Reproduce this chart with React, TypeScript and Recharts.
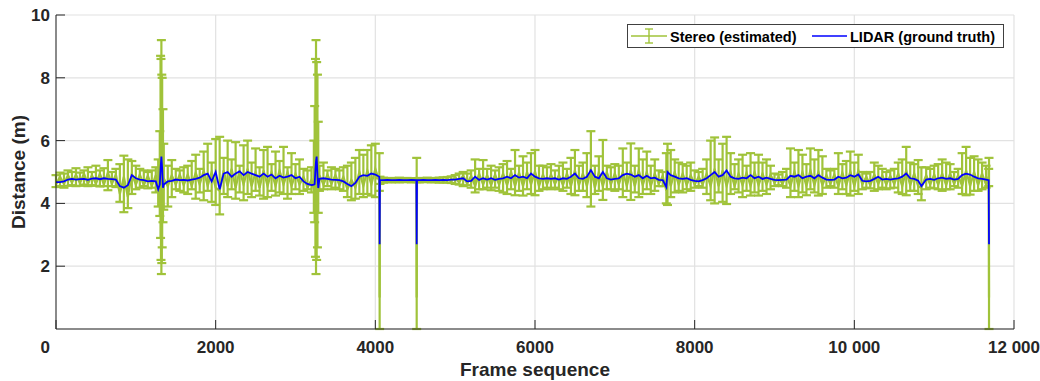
import { ComposedChart, Line, ErrorBar, XAxis, YAxis, CartesianGrid } from 'recharts';

// frame index of each sample
const frameIdx = [
  0, 50, 100, 150, 200, 250, 300, 350, 400, 450,
  500, 550, 600, 650, 700, 750, 800, 850, 900, 950,
  1000, 1050, 1100, 1150, 1200, 1250, 1280, 1300, 1310, 1315,
  1320, 1325, 1330, 1340, 1350, 1400, 1450, 1500, 1550, 1600,
  1650, 1700, 1750, 1800, 1850, 1900, 1950, 2000, 2050, 2100,
  2150, 2200, 2250, 2300, 2350, 2400, 2450, 2500, 2550, 2600,
  2650, 2700, 2750, 2800, 2850, 2900, 2950, 3000, 3050, 3100,
  3150, 3200, 3230, 3240, 3250, 3257, 3265, 3275, 3285, 3300,
  3350, 3400, 3450, 3500, 3550, 3600, 3650, 3700, 3750, 3800,
  3850, 3900, 3950, 4000, 4050, 4054, 4058, 4100, 4150, 4200,
  4250, 4300, 4350, 4400, 4450, 4514, 4518, 4522, 4550, 4600,
  4650, 4700, 4750, 4800, 4850, 4900, 4950, 5000, 5050, 5100,
  5150, 5200, 5250, 5300, 5350, 5400, 5450, 5500, 5550, 5600,
  5650, 5700, 5750, 5800, 5850, 5900, 5950, 6000, 6050, 6100,
  6150, 6200, 6250, 6300, 6350, 6400, 6450, 6500, 6550, 6600,
  6650, 6700, 6750, 6800, 6850, 6900, 6950, 7000, 7050, 7100,
  7150, 7200, 7250, 7300, 7350, 7400, 7450, 7500, 7550, 7600,
  7645, 7660, 7700, 7750, 7800, 7850, 7900, 7950, 8000, 8050,
  8100, 8150, 8200, 8250, 8300, 8350, 8400, 8450, 8500, 8550,
  8600, 8650, 8700, 8750, 8800, 8850, 8900, 8950, 9000, 9050,
  9100, 9150, 9200, 9250, 9300, 9350, 9400, 9450, 9500, 9550,
  9600, 9650, 9700, 9750, 9800, 9850, 9900, 9950, 10000, 10050,
  10100, 10150, 10200, 10250, 10300, 10350, 10400, 10450, 10500, 10550,
  10600, 10650, 10700, 10750, 10800, 10840, 10900, 10950, 11000, 11050,
  11100, 11150, 11200, 11250, 11300, 11350, 11400, 11450, 11500, 11550,
  11600, 11650, 11683, 11687,
];

// LIDAR ground truth distance (m)
const lidarDist = [
  4.68, 4.68, 4.70, 4.76, 4.78, 4.76, 4.77, 4.78, 4.75, 4.79,
  4.80, 4.77, 4.80, 4.78, 4.77, 4.76, 4.55, 4.50, 4.58, 4.90,
  4.80, 4.76, 4.74, 4.70, 4.72, 4.70, 4.45, 4.60, 5.10, 5.30,
  5.49, 5.30, 5.10, 4.50, 4.60, 4.70, 4.72, 4.76, 4.74, 4.75,
  4.73, 4.76, 4.78, 4.82, 4.90, 4.95, 4.70, 5.00, 4.45, 4.95,
  5.00, 4.85, 4.95, 5.02, 4.90, 5.00, 4.95, 4.90, 4.85, 4.95,
  4.85, 4.92, 4.80, 4.88, 4.82, 4.85, 4.90, 4.80, 4.85, 4.70,
  4.62, 4.58, 4.60, 4.62, 5.10, 5.35, 5.49, 4.90, 4.49, 4.78,
  4.80, 4.78, 4.76, 4.75, 4.74, 4.70, 4.62, 4.55, 4.65, 4.85,
  4.90, 4.88, 4.95, 4.92, 4.85, 2.70, 4.74, 4.74, 4.75, 4.74,
  4.74, 4.75, 4.74, 4.74, 4.75, 4.74, 2.70, 4.74, 4.74, 4.75,
  4.74, 4.74, 4.75, 4.74, 4.75, 4.74, 4.76, 4.76, 4.78, 4.80,
  4.70, 4.72, 4.85, 4.75, 4.80, 4.76, 4.80, 4.75, 4.78, 4.80,
  4.85, 4.80, 4.90, 4.82, 4.85, 4.80, 4.95, 4.85, 4.80, 4.78,
  4.80, 4.78, 4.80, 4.76, 4.80, 4.78, 4.85, 4.95, 4.80, 4.78,
  4.85, 5.06, 4.85, 4.80, 5.00, 4.80, 4.76, 4.78, 4.80, 4.90,
  4.95, 4.92, 4.85, 4.90, 4.80, 4.88, 4.80, 4.82, 4.75, 4.74,
  4.52, 5.00, 4.90, 4.85, 4.80, 4.78, 4.80, 4.75, 4.72, 4.70,
  4.74, 4.80, 4.90, 5.00, 4.85, 4.90, 5.05, 4.85, 4.80, 4.78,
  4.82, 4.80, 4.90, 4.80, 4.85, 4.78, 4.82, 4.78, 4.75, 4.74,
  4.75, 4.76, 4.88, 4.85, 4.90, 4.80, 4.85, 4.88, 4.80, 4.90,
  4.82, 4.76, 4.75, 4.76, 4.85, 4.80, 4.82, 4.90, 4.85, 4.92,
  4.72, 4.70, 4.72, 4.78, 4.85, 4.76, 4.78, 4.76, 4.78, 4.80,
  4.85, 4.95, 4.80, 4.78, 4.72, 4.55, 4.76, 4.78, 4.75, 4.80,
  4.82, 4.78, 4.80, 4.76, 4.78, 4.90, 4.95, 4.92, 4.85, 4.80,
  4.78, 4.76, 4.74, 2.70,
];

// stereo estimate (m), the centre line of the error bars
const stereoEst = [
  4.60, 4.85, 4.62, 4.90, 4.66, 4.92, 4.64, 4.95, 4.62, 4.90,
  4.62, 4.95, 4.60, 4.98, 4.62, 4.92, 4.30, 4.85, 4.20, 4.95,
  4.60, 4.92, 4.58, 4.88, 4.55, 4.90, 4.40, 4.95, 5.20, 5.40,
  5.50, 5.20, 4.90, 4.40, 4.80, 4.55, 4.90, 4.60, 4.92, 4.58,
  4.92, 4.55, 4.98, 4.60, 5.05, 4.55, 5.00, 4.50, 4.40, 5.05,
  4.55, 5.10, 4.50, 5.05, 4.60, 5.10, 4.55, 5.00, 4.50, 5.05,
  4.55, 5.00, 4.55, 5.05, 4.60, 5.00, 4.55, 4.95, 4.60, 4.85,
  4.50, 4.75, 4.45, 4.80, 5.00, 5.40, 5.45, 4.80, 4.45, 4.90,
  4.60, 4.92, 4.62, 4.90, 4.58, 4.85, 4.45, 4.75, 4.50, 5.00,
  4.55, 5.05, 4.60, 5.10, 4.70, 1.00, 4.74, 4.72, 4.77, 4.72,
  4.76, 4.72, 4.77, 4.72, 4.76, 4.73, 1.00, 4.75, 4.72, 4.77,
  4.72, 4.77, 4.72, 4.78, 4.71, 4.80, 4.70, 4.84, 4.66, 4.90,
  4.62, 4.88, 4.55, 4.95, 4.60, 4.90, 4.58, 4.92, 4.60, 4.95,
  4.58, 5.00, 4.55, 4.98, 4.55, 5.00, 4.60, 5.02, 4.55, 4.92,
  4.60, 4.92, 4.62, 4.90, 4.58, 4.95, 4.55, 5.05, 4.58, 4.95,
  4.55, 5.10, 4.50, 5.00, 4.55, 5.00, 4.60, 4.95, 4.60, 5.00,
  4.55, 5.05, 4.55, 5.05, 4.58, 5.00, 4.55, 4.95, 4.62, 4.88,
  4.40, 5.05, 4.55, 5.00, 4.60, 4.95, 4.58, 4.90, 4.60, 4.85,
  4.60, 4.95, 4.55, 5.10, 4.55, 5.05, 4.55, 5.00, 4.55, 4.95,
  4.58, 4.98, 4.55, 5.00, 4.58, 4.95, 4.60, 4.92, 4.65, 4.85,
  4.62, 4.90, 4.55, 5.02, 4.55, 5.00, 4.55, 5.05, 4.58, 5.00,
  4.58, 4.90, 4.62, 4.92, 4.55, 4.98, 4.58, 5.02, 4.55, 5.05,
  4.60, 4.85, 4.58, 4.92, 4.62, 4.90, 4.60, 4.88, 4.62, 4.95,
  4.55, 5.05, 4.58, 4.95, 4.55, 4.50, 4.90, 4.60, 4.92, 4.60,
  4.95, 4.58, 4.95, 4.62, 4.90, 4.55, 5.05, 4.55, 5.00, 4.58,
  4.95, 4.60, 4.85, 1.00,
];

// lower end of the stereo error bar (m)
const stereoLow = [
  4.52, 4.55, 4.50, 4.56, 4.58, 4.55, 4.56, 4.60, 4.55, 4.58,
  4.56, 4.54, 4.55, 4.42, 4.55, 4.52, 4.05, 3.72, 3.85, 4.30,
  4.45, 4.50, 4.55, 4.48, 4.50, 4.35, 3.90, 3.60, 2.90, 2.20,
  1.75, 2.10, 2.60, 3.40, 3.80, 3.90, 4.20, 4.45, 4.40, 4.35,
  4.30, 4.45, 4.15, 4.35, 4.10, 4.40, 4.05, 3.95, 3.65, 4.30,
  4.20, 4.45, 4.15, 4.35, 4.10, 4.30, 4.20, 4.40, 4.25, 4.15,
  4.20, 4.40, 4.25, 4.35, 4.30, 4.15, 4.30, 4.45, 4.30, 4.40,
  4.45, 4.35, 3.70, 3.40, 2.30, 1.75, 2.20, 2.60, 3.70, 4.40,
  4.45, 4.55, 4.45, 4.50, 4.45, 4.40, 4.20, 4.10, 4.15, 4.30,
  4.20, 4.30, 4.25, 4.20, 4.40, 0.00, 4.62, 4.66, 4.68, 4.67,
  4.68, 4.67, 4.68, 4.68, 4.67, 4.68, 0.00, 4.68, 4.67, 4.68,
  4.68, 4.67, 4.68, 4.66, 4.67, 4.66, 4.65, 4.62, 4.60, 4.55,
  4.58, 4.50, 4.35, 4.45, 4.45, 4.50, 4.42, 4.50, 4.40, 4.35,
  4.30, 4.45, 4.26, 4.40, 4.25, 4.45, 4.30, 4.26, 4.40, 4.45,
  4.50, 4.45, 4.50, 4.45, 4.40, 4.50, 4.30, 4.26, 4.40, 4.40,
  4.20, 3.90, 4.30, 4.40, 4.11, 4.45, 4.45, 4.40, 4.45, 4.20,
  4.40, 4.11, 4.35, 4.20, 4.30, 4.45, 4.30, 4.40, 4.55, 4.55,
  4.00, 3.95, 4.20, 4.35, 4.40, 4.35, 4.45, 4.40, 4.50, 4.55,
  4.50, 4.30, 4.10, 4.00, 4.35, 4.05, 3.98, 4.30, 4.45, 4.35,
  4.20, 4.40, 4.25, 4.35, 4.25, 4.40, 4.30, 4.45, 4.55, 4.58,
  4.55, 4.50, 4.20, 4.40, 4.20, 4.35, 4.26, 4.45, 4.35, 4.25,
  4.30, 4.50, 4.55, 4.50, 4.30, 4.45, 4.30, 4.25, 4.40, 4.30,
  4.45, 4.50, 4.48, 4.40, 4.45, 4.50, 4.45, 4.48, 4.50, 4.35,
  4.30, 4.26, 4.40, 4.40, 4.30, 4.10, 4.45, 4.50, 4.48, 4.45,
  4.40, 4.45, 4.45, 4.55, 4.50, 4.30, 4.26, 4.28, 4.40, 4.40,
  4.45, 4.50, 4.55, 0.00,
];

// upper end of the stereo error bar (m)
const stereoHigh = [
  4.90, 4.98, 4.95, 5.05, 5.00, 5.12, 4.98, 5.05, 5.15, 5.00,
  5.20, 5.05, 5.12, 5.38, 5.00, 5.10, 5.25, 5.52, 5.40, 5.35,
  5.20, 5.10, 5.05, 5.00, 5.05, 5.15, 5.40, 6.30, 8.70, 8.60,
  9.20, 8.10, 8.00, 7.00, 5.90, 5.20, 5.38, 5.10, 5.05, 5.15,
  5.20, 5.35, 5.55, 5.10, 5.65, 5.90, 5.30, 6.05, 6.12, 5.45,
  6.00, 5.40, 5.95, 5.20, 5.85, 6.00, 5.30, 5.75, 5.15, 5.70,
  5.80, 5.25, 5.65, 5.35, 5.80, 5.15, 5.60, 5.25, 5.40, 5.10,
  5.05, 5.15, 6.00, 7.10, 8.60, 9.20, 8.50, 8.10, 6.60, 5.20,
  5.30, 5.05, 5.15, 5.10, 5.05, 5.15, 5.20, 5.30, 5.45, 5.70,
  5.55, 5.70, 5.85, 5.90, 5.60, 4.80, 4.85, 4.82, 4.80, 4.81,
  4.80, 4.82, 4.80, 4.81, 4.80, 4.80, 5.45, 4.80, 4.81, 4.80,
  4.82, 4.80, 4.81, 4.82, 4.83, 4.84, 4.86, 4.90, 4.95, 5.00,
  4.95, 5.05, 5.40, 5.10, 5.38, 5.10, 5.20, 5.05, 5.15, 5.25,
  5.35, 5.10, 5.70, 5.20, 5.50, 5.30, 5.60, 5.70, 5.20, 5.20,
  5.15, 5.25, 5.05, 5.20, 5.30, 5.10, 5.45, 5.70, 5.20, 5.30,
  5.60, 6.30, 5.20, 5.50, 6.02, 5.20, 5.15, 5.25, 5.20, 5.75,
  5.30, 5.91, 5.20, 5.75, 5.40, 5.65, 5.20, 5.40, 5.05, 5.00,
  5.60, 5.90, 5.70, 5.40, 5.30, 5.25, 5.20, 5.30, 5.05, 5.00,
  5.10, 5.40, 6.00, 6.10, 5.40, 5.90, 6.12, 5.60, 5.25, 5.40,
  5.55, 5.20, 5.60, 5.30, 5.55, 5.30, 5.40, 5.20, 4.95, 4.92,
  5.00, 5.10, 5.75, 5.30, 5.70, 5.55, 5.25, 5.75, 5.40, 5.70,
  5.50, 5.10, 5.05, 5.10, 5.60, 5.25, 5.35, 5.65, 5.30, 5.55,
  5.00, 4.95, 5.00, 5.30, 5.20, 5.10, 5.00, 5.05, 5.10, 5.30,
  5.40, 5.80, 5.30, 5.25, 5.38, 5.15, 5.15, 5.10, 5.20, 5.25,
  5.40, 5.30, 5.25, 5.00, 5.10, 5.60, 5.80, 5.45, 5.50, 5.40,
  5.30, 5.20, 5.10, 5.45,
];

const xTicks = [0, 2000, 4000, 6000, 8000, 10000, 12000];
const yTicks = [0, 2, 4, 6, 8, 10];

const FONT = '"Liberation Sans", Arial, Helvetica, sans-serif';
const INK = '#262626';
const GREEN = '#a0c33a';
const BLUE = '#0000ff';

const chartData = frameIdx.map((frame, i) => ({
  frame,
  lidar: lidarDist[i],
  est: stereoEst[i],
  low: stereoLow[i],
  spread: [0, stereoHigh[i] - stereoLow[i]],
}));

function fmtFrame(v: number): string {
  if (v >= 10000) return `${Math.floor(v / 1000)} 000`;
  return String(v);
}

function XTick({ x, y, payload }: any) {
  const v = payload.value;
  return (
    <g>
      <line x1={x} x2={x} y1={y} y2={y - 9} stroke={INK} strokeWidth={1} />
      <text
        x={v === 0 ? x - 6 : x}
        y={y + 24}
        textAnchor={v === 0 ? 'end' : 'middle'}
        fontFamily={FONT}
        fontWeight="bold"
        fontSize={17}
        fill={INK}
      >
        {fmtFrame(v)}
      </text>
    </g>
  );
}

function YTick({ x, y, payload }: any) {
  if (payload.value === 0) return <g />;
  return (
    <g>
      <line x1={x} x2={x + 9} y1={y} y2={y} stroke={INK} strokeWidth={1} />
      <text
        x={x - 6}
        y={y + 6}
        textAnchor="end"
        fontFamily={FONT}
        fontWeight="bold"
        fontSize={17}
        fill={INK}
      >
        {payload.value}
      </text>
    </g>
  );
}

function LegendBox() {
  return (
    <svg
      width={377}
      height={24}
      style={{ position: 'absolute', left: 627, top: 24, overflow: 'visible' }}
    >
      <rect x={0.5} y={0.5} width={376} height={23} fill="#fff" stroke="#404040" strokeWidth={1} />
      <line x1={4} x2={40} y1={12} y2={12} stroke={GREEN} strokeWidth={1.4} />
      <line x1={22} x2={22} y1={5} y2={19} stroke={GREEN} strokeWidth={1.4} />
      <line x1={18} x2={26} y1={5} y2={5} stroke={GREEN} strokeWidth={1.4} />
      <line x1={18} x2={26} y1={19} y2={19} stroke={GREEN} strokeWidth={1.4} />
      <text x={43} y={17.5} fontFamily={FONT} fontWeight="bold" fontSize={14.5} fill="#000">
        Stereo (estimated)
      </text>
      <line x1={185} x2={220} y1={12} y2={12} stroke={BLUE} strokeWidth={1.4} />
      <text x={223} y={17.5} fontFamily={FONT} fontWeight="bold" fontSize={14.5} fill="#000">
        LIDAR (ground truth)
      </text>
    </svg>
  );
}

export default function App() {
  return (
    <div style={{ position: 'absolute', left: 0, top: 0, width: 1040, height: 381, background: '#fff' }}>
      <ComposedChart
        width={1040}
        height={381}
        data={chartData}
        margin={{ top: 15, right: 26, bottom: 22, left: 16 }}
      >
        <CartesianGrid stroke="#e2e2e2" strokeWidth={1.2} />
        {/* error bars span low..high; the carrier line itself is invisible */}
        <Line
          dataKey="low"
          stroke="none"
          dot={false}
          activeDot={false}
          isAnimationActive={false}
        >
          <ErrorBar
            dataKey="spread"
            direction="y"
            width={4.5}
            stroke={GREEN}
            strokeWidth={2.2}
            isAnimationActive={false}
          />
        </Line>
        <Line
          dataKey="est"
          type="linear"
          stroke={GREEN}
          strokeWidth={2.2}
          dot={false}
          activeDot={false}
          isAnimationActive={false}
        />
        <Line
          dataKey="lidar"
          type="linear"
          stroke={BLUE}
          strokeWidth={1.8}
          dot={false}
          activeDot={false}
          isAnimationActive={false}
        />
        <XAxis
          type="number"
          dataKey="frame"
          domain={[0, 12000]}
          ticks={xTicks}
          interval={0}
          height={30}
          tickSize={0}
          tickMargin={0}
          tickLine={false}
          axisLine={{ stroke: INK, strokeWidth: 1 }}
          tick={<XTick />}
          label={{
            value: 'Frame sequence',
            content: () => (
              <text x={535} y={376} textAnchor="middle" fontFamily={FONT} fontWeight="bold" fontSize={19} fill={INK}>
                Frame sequence
              </text>
            ),
          }}
        />
        <YAxis
          type="number"
          domain={[0, 10]}
          ticks={yTicks}
          interval={0}
          width={40}
          tickSize={0}
          tickMargin={0}
          tickLine={false}
          axisLine={{ stroke: INK, strokeWidth: 1 }}
          tick={<YTick />}
          label={{
            value: 'Distance (m)',
            content: () => (
              <text
                x={0}
                y={0}
                transform="translate(25 172) rotate(-90)"
                textAnchor="middle"
                fontFamily={FONT}
                fontWeight="bold"
                fontSize={19}
                fill={INK}
              >
                Distance (m)
              </text>
            ),
          }}
        />
      </ComposedChart>
      <LegendBox />
    </div>
  );
}
